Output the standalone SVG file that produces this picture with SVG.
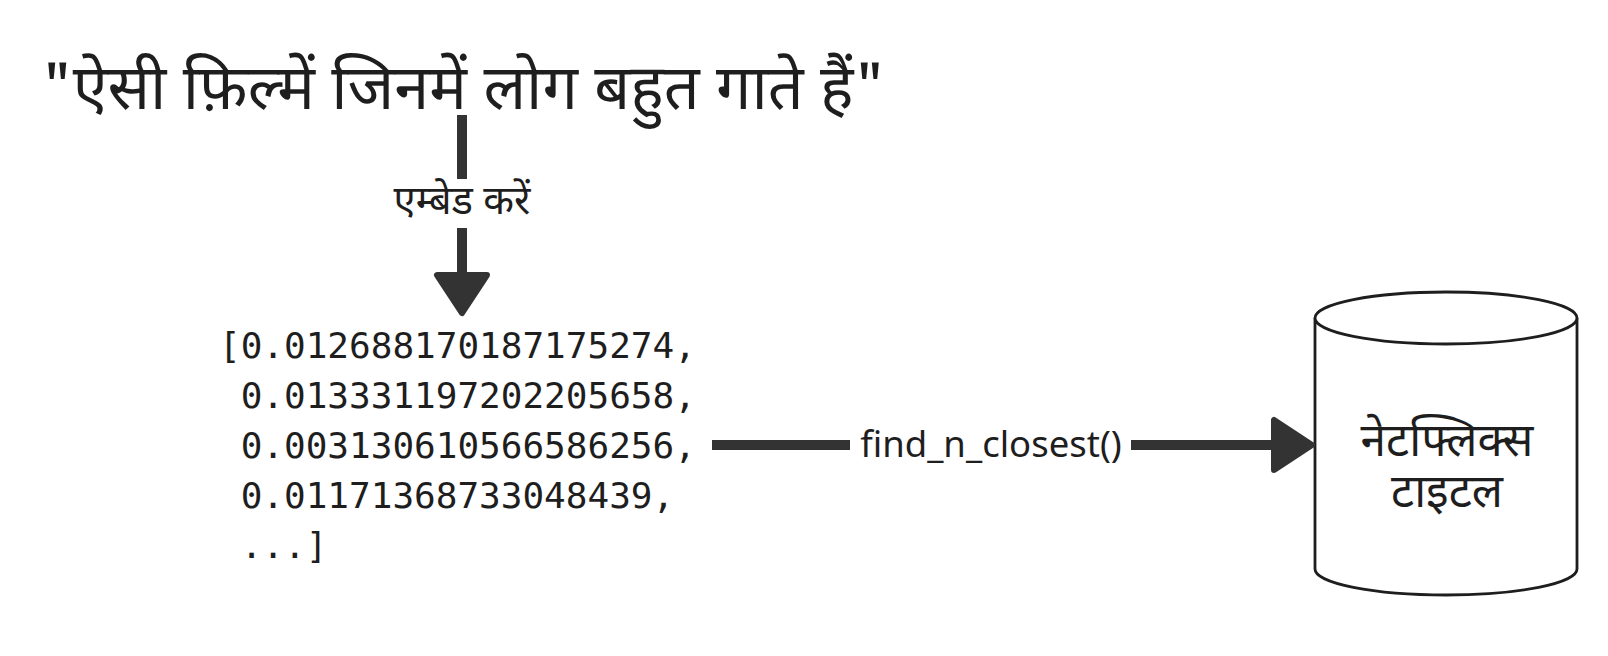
<svg xmlns="http://www.w3.org/2000/svg" width="1608" height="656" viewBox="0 0 1608 656">
<style>
.deva{font-family:"Noto Sans Devanagari","Noto Sans","Lohit Devanagari","Mangal",sans-serif;fill:#1e1e1e}
.mono{font-family:"DejaVu Sans Mono","Liberation Mono",monospace;font-size:36px;fill:#1e1e1e}
.lbl{font-family:"Noto Sans","Open Sans",sans-serif;font-size:36.5px;fill:#1e1e1e}
.conn{stroke:#333;stroke-width:10;fill:none}
.head{fill:#333;stroke:#333;stroke-width:6;stroke-linejoin:round}
.db{fill:#fff;stroke:#1e1e1e;stroke-width:2.8}
</style>
<rect width="1608" height="656" fill="#fff"/>
<g id="query">
<text class="deva" x="41" y="109" font-size="63">"ऐसी फ़िल्में जिनमें लोग बहुत गाते हैं"</text>
</g>
<g id="vector">
<text class="mono" x="219" y="358" xml:space="preserve">[0.012688170187175274,</text>
<text class="mono" x="219" y="408" xml:space="preserve"> 0.013331197202205658,</text>
<text class="mono" x="219" y="458" xml:space="preserve"> 0.003130610566586256,</text>
<text class="mono" x="219" y="508" xml:space="preserve"> 0.01171368733048439,</text>
<text class="mono" x="219" y="558" xml:space="preserve"> ...]</text>
</g>
<g id="netflix-titles">
<path class="db" d="M1315 318 L1315 569 A131 26 0 0 0 1577 569 L1577 318"/>
<ellipse class="db" cx="1446" cy="318" rx="131" ry="26"/>
<text class="deva" font-size="46" text-anchor="middle"><tspan x="1447" y="456">नेटफ्लिक्स</tspan><tspan x="1447" y="507">टाइटल</tspan></text>
</g>
<g id="connectors">
<line class="conn" x1="462" y1="115" x2="462" y2="179"/>
<line class="conn" x1="462" y1="228" x2="462" y2="278"/>
<polygon class="head" points="437,275 487,275 462,313"/>
<text class="deva" x="462" y="214" font-size="40" text-anchor="middle">एम्बेड करें</text>
<line class="conn" x1="712" y1="445" x2="850" y2="445"/>
<line class="conn" x1="1131" y1="445" x2="1275" y2="445"/>
<polygon class="head" points="1274,420 1274,470 1312,445"/>
<text class="lbl" x="991" y="457" text-anchor="middle">find_n_closest()</text>
</g>
</svg>
